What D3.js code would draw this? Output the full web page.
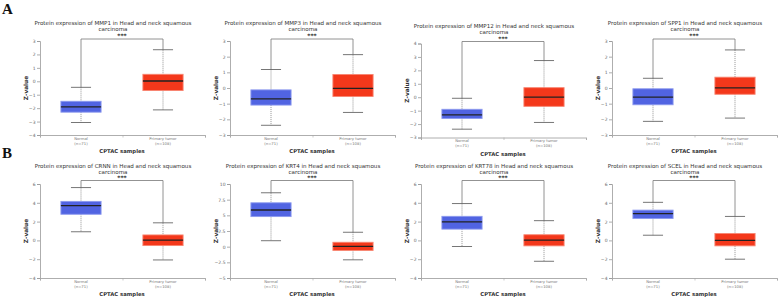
<!DOCTYPE html>
<html>
<head>
<meta charset="utf-8">
<script src="https://cdn.jsdelivr.net/npm/d3@7"></script>
<style>
  body { margin: 0; background: #fff; }
  svg { display: block; }
</style>
</head>
<body>
<script>
// Gene names, one panel each (row A then row B)
const genes = ['MMP1', 'MMP3', 'MMP12', 'SPP1', 'CRNN', 'KRT4', 'KRT78', 'SCEL'];
const groups = ['Normal', 'Primary tumor'];
const groupN = ['(n=71)', '(n=108)'];

// box statistics: [min, q1, median, q3, max]
const normalStats = [
  [-3.07, -2.30, -1.90, -1.49, -0.45],
  [-2.38, -1.09, -0.69, -0.12, 1.18],
  [-2.38, -1.58, -1.31, -0.90, -0.08],
  [-2.13, -1.07, -0.58, -0.05, 0.62],
  [0.92, 2.78, 3.70, 4.15, 5.62],
  [0.95, 4.80, 5.85, 7.00, 8.60],
  [-0.65, 1.20, 1.98, 2.56, 3.92],
  [0.55, 2.33, 2.84, 3.22, 4.05]
];
const tumorStats = [
  [-2.13, -0.69, 0.02, 0.52, 2.35],
  [-1.56, -0.54, -0.02, 0.86, 2.13],
  [-1.88, -0.68, 0.00, 0.71, 2.73],
  [-1.92, -0.40, 0.01, 0.69, 2.43],
  [-2.08, -0.55, 0.03, 0.58, 1.87],
  [-2.10, -0.60, 0.05, 0.70, 2.30],
  [-2.22, -0.58, 0.02, 0.60, 2.10],
  [-2.00, -0.58, 0.00, 0.73, 2.55]
];

const yDomains = [[-4, 3], [-3, 3], [-3, 4], [-3, 3], [-4, 6], [-5, 10], [-4, 6], [-4, 6]];
const yTicks = [
  [-4, -3, -2, -1, 0, 1, 2, 3],
  [-3, -2, -1, 0, 1, 2, 3],
  [-3, -2, -1, 0, 1, 2, 3, 4],
  [-3, -2, -1, 0, 1, 2, 3],
  [-4, -2, 0, 2, 4, 6],
  [-5, -2.5, 0, 2.5, 5, 7.5, 10],
  [-4, -2, 0, 2, 4, 6],
  [-4, -2, 0, 2, 4, 6]
];
const panelLetters = ['A', 'B'];

// layout
const W = 781, H = 300;
const colX = [40, 230, 421, 612];
const rowTop = [41, 184];
const plotH = 94, plotW = 164;
const colors = { Normal: '#5164e2', 'Primary tumor': '#f4381b' };
const strokes = { Normal: '#8c99ee', 'Primary tumor': '#f88470' };

const svg = d3.select('body').append('svg')
  .attr('width', W)
  .attr('height', H)
  .style('font-family', '"DejaVu Sans", sans-serif');

// panel letters
panelLetters.forEach((l, i) => {
  svg.append('text')
    .attr('x', 2)
    .attr('y', i === 0 ? 14 : 158)
    .style('font-family', '"Liberation Serif", serif')
    .style('font-weight', 'bold')
    .style('font-size', '15px')
    .attr('fill', '#111')
    .text(l);
});

genes.forEach((gene, i) => {
  const row = Math.floor(i / 4), col = i % 4;
  const shift = (i === 2) ? 2.5 : 0;
  const top = rowTop[row] + shift;
  const g = svg.append('g').attr('transform', `translate(${colX[col]},${top})`);

  const y = d3.scaleLinear().domain(yDomains[i]).range([plotH, 0]);
  const x = d3.scaleBand().domain(groups).range([0, plotW]).padding(0);
  const boxW = x.bandwidth() * 0.49;
  const capW = boxW * 0.5;

  // y axis
  const ya = g.append('g')
    .call(d3.axisLeft(y).tickValues(yTicks[i]).tickSize(3).tickPadding(1.5)
      .tickFormat(d => d3.format('')(d)));
  ya.select('.domain').attr('stroke', '#999').attr('stroke-width', 0.8);
  ya.selectAll('.tick line').attr('stroke', '#999').attr('stroke-width', 0.8);
  ya.selectAll('.tick text').attr('fill', '#666').style('font-size', '4.5px')
    .style('font-family', '"DejaVu Sans", sans-serif');

  // x axis line with ticks at category boundaries
  const xb = d3.scaleLinear().domain([0, 2]).range([0, plotW + 1]);
  const xa = g.append('g').attr('transform', `translate(0,${plotH})`)
    .call(d3.axisBottom(xb).tickValues([0, 1, 2]).tickSize(2.5).tickFormat(''));
  xa.select('.domain').attr('stroke', '#999').attr('stroke-width', 0.8);
  xa.selectAll('.tick line').attr('stroke', '#aaa').attr('stroke-width', 0.6);

  // category labels
  groups.forEach((grp, k) => {
    const t = g.append('text')
      .attr('x', x(grp) + x.bandwidth() / 2)
      .attr('y', plotH + 4.6)
      .attr('text-anchor', 'middle')
      .attr('fill', '#777')
      .style('font-size', '3.8px');
    t.append('tspan').attr('x', x(grp) + x.bandwidth() / 2).text(grp);
    t.append('tspan').attr('x', x(grp) + x.bandwidth() / 2).attr('dy', '1.35em').text(groupN[k]);
  });

  // axis titles
  g.append('text')
    .attr('x', plotW / 2)
    .attr('y', plotH + 18)
    .attr('text-anchor', 'middle')
    .attr('fill', '#333')
    .style('font-size', '5.3px')
    .style('font-weight', 'bold')
    .text('CPTAC samples');
  g.append('text')
    .attr('transform', `translate(-12.5,${plotH / 2}) rotate(-90)`)
    .attr('text-anchor', 'middle')
    .attr('fill', '#333')
    .style('font-size', '5.8px')
    .style('font-weight', 'bold')
    .text('Z-value');

  // chart title
  const title = g.append('text')
    .attr('x', 73)
    .attr('y', row === 0 ? -16 : -16.5)
    .attr('text-anchor', 'middle')
    .attr('fill', '#333')
    .style('font-size', '5.55px');
  title.append('tspan').attr('x', 73)
    .text(`Protein expression of ${gene} in Head and neck squamous`);
  title.append('tspan').attr('x', 73).attr('dy', '1.1em').text('carcinoma');

  const stats = [normalStats[i], tumorStats[i]];

  // significance bracket
  const cx0 = x(groups[0]) + x.bandwidth() / 2;
  const cx1 = x(groups[1]) + x.bandwidth() / 2;
  const bracketY = row === 0 ? -2 : -3.5;
  g.append('path')
    .attr('d', d3.line()([
      [cx0, y(stats[0][4])], [cx0, bracketY], [cx1, bracketY], [cx1, y(stats[1][4])]
    ]))
    .attr('fill', 'none')
    .attr('stroke', '#777')
    .attr('stroke-width', 0.8);
  g.append('text')
    .attr('x', (cx0 + cx1) / 2)
    .attr('y', bracketY - 0.8)
    .attr('text-anchor', 'middle')
    .attr('fill', '#222')
    .style('font-size', '6px')
    .style('font-weight', 'bold')
    .text('***');

  // boxes
  groups.forEach((grp, k) => {
    const [mn, q1, md, q3, mx] = stats[k];
    const cx = x(grp) + x.bandwidth() / 2;
    const bg = g.append('g');
    // dotted whiskers
    bg.append('line')
      .attr('x1', cx).attr('x2', cx)
      .attr('y1', y(mx)).attr('y2', y(q3))
      .attr('stroke', '#888').attr('stroke-width', 0.9).attr('stroke-dasharray', '1,1');
    bg.append('line')
      .attr('x1', cx).attr('x2', cx)
      .attr('y1', y(q1)).attr('y2', y(mn))
      .attr('stroke', '#888').attr('stroke-width', 0.9).attr('stroke-dasharray', '1,1');
    // caps
    [mn, mx].forEach(v => {
      bg.append('line')
        .attr('x1', cx - capW / 2).attr('x2', cx + capW / 2)
        .attr('y1', y(v)).attr('y2', y(v))
        .attr('stroke', '#666').attr('stroke-width', 0.9);
    });
    // box
    bg.append('rect')
      .attr('x', cx - boxW / 2)
      .attr('y', y(q3))
      .attr('width', boxW)
      .attr('height', y(q1) - y(q3))
      .attr('fill', colors[grp])
      .attr('stroke', strokes[grp])
      .attr('stroke-width', 0.9);
    // median
    bg.append('line')
      .attr('x1', cx - boxW / 2).attr('x2', cx + boxW / 2)
      .attr('y1', y(md)).attr('y2', y(md))
      .attr('stroke', '#222').attr('stroke-width', 1.3);
  });
});
</script>
</body>
</html>
